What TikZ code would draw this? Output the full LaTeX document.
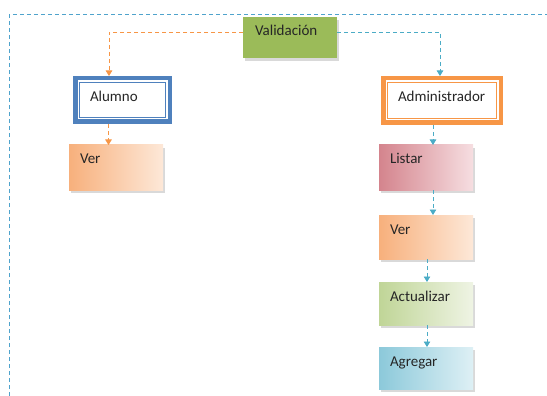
\documentclass[tikz,border=0pt]{standalone}
\usepackage{fontspec}
\setmainfont{Carlito}
\usetikzlibrary{arrows.meta,shadows}
\definecolor{valgreen}{HTML}{9BBB59}
\definecolor{alublue}{HTML}{4F81BD}
\definecolor{admorange}{HTML}{F79646}
\definecolor{linkblue}{HTML}{4BACC6}
\definecolor{framblue}{HTML}{4FA3CC}
\definecolor{textgray}{HTML}{262626}
\definecolor{verdark}{HTML}{F7B07C}
\definecolor{verlight}{HTML}{FDE8D8}
\definecolor{lisdark}{HTML}{D4848D}
\definecolor{lislight}{HTML}{F6DEE1}
\definecolor{actdark}{HTML}{C0D597}
\definecolor{actlight}{HTML}{EFF4E4}
\definecolor{agrdark}{HTML}{8CC9DA}
\definecolor{agrlight}{HTML}{DEF0F5}
\tikzset{
  tbox/.style={anchor=north west, inner xsep=11pt, inner ysep=0pt, outer sep=0pt,
    text height=19pt, align=left, text=textgray,
    font=\fontsize{15}{17}\selectfont,
    drop shadow={shadow xshift=2pt, shadow yshift=-3pt, opacity=0.3, fill=gray}},
  rolebox/.style={anchor=north west, draw=#1, line width=4.5pt, fill=white,
    inner xsep=14.75pt, inner ysep=0pt, text height=23.75pt, align=left, text=textgray,
    font=\fontsize{15}{17}\selectfont,
    path picture={\draw[#1, line width=0.8pt]
      ([xshift=4.3pt,yshift=-4.3pt]path picture bounding box.north west) rectangle
      ([xshift=-4.3pt,yshift=4.3pt]path picture bounding box.south east);}},
  link/.style={draw=#1, line width=0.9pt, dash pattern=on 4pt off 3pt,
    -{Triangle[width=6.5pt,length=5.5pt,fill=#1]}}
}
\begin{document}
\begin{tikzpicture}[x=1pt,y=-1pt]
\useasboundingbox (0,0) rectangle (547,396);
% outer frame
\draw[framblue, line width=1pt, dash pattern=on 4pt off 3pt] (9,396) -- (9,15) -- (547,15);
% top
\node[tbox, fill=valgreen, text width=70pt, text depth=22pt, inner xsep=12pt] (val) at (243,17) {Validación};
% roles
\node[rolebox=alublue, text width=65pt, text depth=19.75pt] (alu) at (73,76) {Alumno};
\node[rolebox=admorange, text width=88pt, text depth=20.75pt] (adm) at (381,76) {Administrador};
% actions
\node[tbox, left color=verdark, right color=verlight, text width=72pt, text depth=26pt] (ver1) at (69,145) {Ver};
\node[tbox, left color=lisdark, right color=lislight, text width=72pt, text depth=26pt] (lis) at (379,145) {Listar};
\node[tbox, left color=verdark, right color=verlight, text width=72pt, text depth=25pt] (ver2) at (379,215) {Ver};
\node[tbox, left color=actdark, right color=actlight, text width=72pt, text depth=24pt] (act) at (379,282) {Actualizar};
\node[tbox, left color=agrdark, right color=agrlight, text width=72pt, text depth=23pt] (agr) at (379,347) {Agregar};
% links
\draw[link=admorange] ([yshift=5.5pt]val.west) -| ([xshift=-13.5pt]alu.north);
\draw[link=linkblue] ([yshift=5.5pt]val.east) -| ([xshift=-2pt]adm.north);
\draw[link=admorange] ([xshift=-14pt]alu.south) -- ([xshift=-14pt]alu.south |- ver1.north);
\draw[link=linkblue] ([xshift=-9pt]adm.south) -- ([xshift=-9pt]adm.south |- lis.north);
\draw[link=linkblue] ([xshift=7pt]lis.south) -- ([xshift=7pt]lis.south |- ver2.north);
\draw[link=linkblue] ([xshift=1pt]ver2.south) -- ([xshift=1pt]ver2.south |- act.north);
\draw[link=linkblue] ([xshift=1pt]act.south) -- ([xshift=1pt]act.south |- agr.north);
\end{tikzpicture}
\end{document}
